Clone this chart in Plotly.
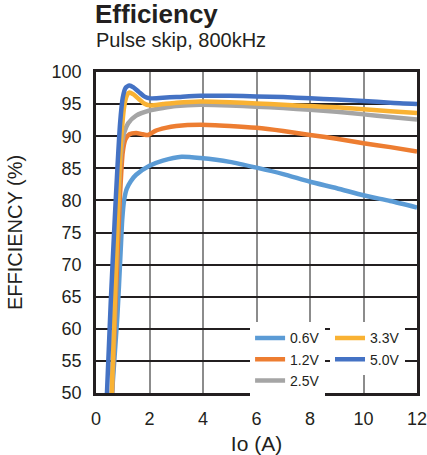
import plotly.graph_objects as go

# ---- data ----
series_names = ["0.6V", "1.2V", "2.5V", "3.3V", "5.0V"]
series_colors = ["#5B9BD5", "#ED7D31", "#A5A5A5", "#F9B233", "#4472C4"]
legend_ids = ["legend", "legend", "legend", "legend2", "legend2"]

x_06 = [0.6, 0.8, 0.92, 0.98, 1.05, 1.15, 1.3, 1.5, 2.0, 2.5, 3.2, 3.9, 5.0, 6.0, 7.0, 8.0, 9.0, 10.0, 11.0, 12.0]
y_06 = [50, 62, 72, 77, 80, 81.8, 83, 84, 85.4, 86.2, 86.8, 86.6, 86.0, 85.1, 84.1, 82.9, 81.9, 80.8, 79.9, 78.9]

x_12 = [0.6, 0.75, 0.9, 1.0, 1.1, 1.25, 1.5, 1.75, 1.95, 2.2, 2.6, 3.0, 3.9, 5.0, 6.0, 7.0, 8.0, 9.0, 10.0, 11.0, 12.0]
y_12 = [50, 66, 81, 87.5, 89.5, 90.3, 90.5, 90.3, 90.2, 90.8, 91.3, 91.6, 91.8, 91.6, 91.3, 90.8, 90.2, 89.6, 88.9, 88.3, 87.6]

x_25 = [0.6, 0.75, 0.88, 0.95, 1.05, 1.2, 1.5, 2.0, 2.5, 3.0, 3.9, 5.0, 6.0, 7.0, 8.0, 9.0, 10.0, 11.0, 12.0]
y_25 = [50, 70, 84, 88, 90.5, 92, 93.2, 94.0, 94.4, 94.7, 94.9, 94.8, 94.6, 94.4, 94.1, 93.8, 93.4, 93.0, 92.6]

x_33 = [0.59, 0.7, 0.8, 0.86, 0.95, 1.05, 1.15, 1.25, 1.4, 1.6, 1.8, 2.0, 2.5, 3.0, 3.9, 5.0, 6.0, 7.0, 8.0, 9.0, 10.0, 11.0, 12.0]
y_33 = [50, 64, 76, 83, 90, 94.5, 96.3, 96.8, 96.5, 95.8, 95.1, 94.8, 95.0, 95.2, 95.4, 95.3, 95.1, 94.9, 94.7, 94.5, 94.2, 93.9, 93.6]

x_50 = [0.41, 0.55, 0.7, 0.8, 0.9, 1.0, 1.1, 1.25, 1.4, 1.6, 1.8, 2.0, 2.5, 3.0, 3.9, 5.0, 6.0, 7.0, 8.0, 9.0, 10.0, 11.0, 12.0]
y_50 = [50, 64, 77, 85, 92, 96, 97.5, 97.9, 97.6, 96.9, 96.2, 95.9, 96.0, 96.1, 96.3, 96.3, 96.2, 96.1, 95.9, 95.7, 95.5, 95.2, 95.0]

xs = [x_06, x_12, x_25, x_33, x_50]
ys = [y_06, y_12, y_25, y_33, y_50]

x_ticks = [0, 2, 4, 6, 8, 10, 12]
y_ticks = [50, 55, 60, 65, 70, 75, 80, 85, 90, 95, 100]

title_text = "Efficiency"
subtitle_text = "Pulse skip, 800kHz"
x_title = "Io (A)"
y_title = "EFFICIENCY (%)"

FONT = "Liberation Sans, Arial, Helvetica, sans-serif"
DARK = "#231F20"

fig = go.Figure()
for name, color, leg, x, y in zip(series_names, series_colors, legend_ids, xs, ys):
    fig.add_trace(go.Scatter(
        x=x, y=y, name=name, mode="lines",
        line=dict(color=color, width=4.5, shape="spline", smoothing=0.6),
        legend=leg,
    ))

legend_common = dict(
    orientation="v", yanchor="top", xanchor="left",
    bgcolor="white", font=dict(size=14, color=DARK),
    itemwidth=30, tracegroupgap=0, traceorder="normal",
)

fig.update_layout(
    width=427, height=455,
    margin=dict(l=96, r=10, t=72, b=62),
    paper_bgcolor="white", plot_bgcolor="white",
    font=dict(family=FONT, color=DARK, size=18),
    showlegend=True,
    legend=dict(x=0.48, y=0.22, **legend_common),
    legend2=dict(x=0.729, y=0.22, **legend_common),
    title=dict(
        text="<b>" + title_text + "</b>", font=dict(size=26, color=DARK),
        xref="container", yref="container", x=95 / 427, xanchor="left",
        y=1 - 14 / 455, yanchor="middle", pad=dict(l=0, r=0, t=0, b=0),
    ),
    annotations=[dict(
        text=subtitle_text, xref="paper", yref="paper", x=-0.006, y=(393 - 40) / 321,
        xanchor="left", yanchor="middle", showarrow=False,
        font=dict(size=20, color=DARK),
    )],
)

fig.update_xaxes(
    range=[0, 12], tickvals=x_ticks, ticktext=[str(v) for v in x_ticks],
    showgrid=True, gridcolor="#8C8C8C", gridwidth=1.5,
    showline=True, linecolor=DARK, linewidth=2.5, mirror=True,
    zeroline=False, ticks="outside", ticklen=8, tickcolor="rgba(0,0,0,0)",
    title=dict(text=x_title, font=dict(size=21), standoff=8),
    tickfont=dict(size=18), automargin=False, ticklabeloverflow="allow",
)
fig.update_yaxes(
    range=[50, 100], tickvals=y_ticks, ticktext=[str(v) for v in y_ticks],
    showgrid=True, gridcolor=DARK, gridwidth=1.5,
    showline=True, linecolor=DARK, linewidth=2.5, mirror=True,
    zeroline=False, ticks="outside", ticklen=8, tickcolor="rgba(0,0,0,0)",
    title=dict(text=y_title, font=dict(size=20), standoff=24),
    tickfont=dict(size=18), automargin=False, ticklabeloverflow="allow",
)

fig.write_html(
    "out.html",
    config={"displayModeBar": False},
    post_script="document.body.style.margin='0';document.body.style.overflow='hidden';",
)
